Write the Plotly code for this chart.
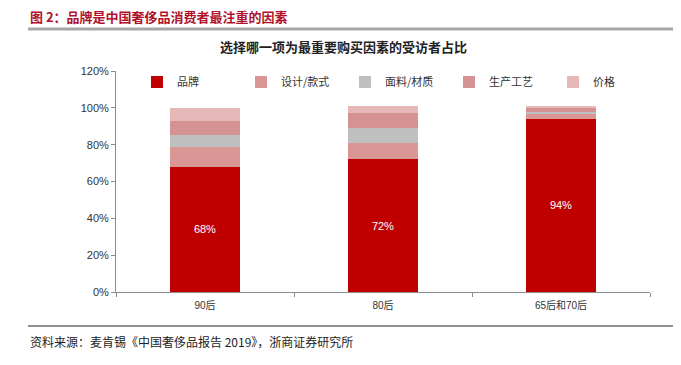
import plotly.graph_objects as go

categories = ["90后", "80后", "65后和70后"]
brand = [68, 72, 94]
design = [11, 9, 3]
material = [6, 8, 1]
craft = [8, 8, 2]
price = [7, 4, 1]
series_names = ["品牌", "设计/款式", "面料/材质", "生产工艺", "价格"]
series_values = [brand, design, material, craft, price]
colors = ["#C00000", "#DA9694", "#BFBFBF", "#D49392", "#E6B9B8"]

OFF = 8  # page body margin
W, H = 681 - OFF, 365 - OFF
# target plot area in screen pixels: x 116..650, y 71..292
L, T = 116 - OFF, 71 - OFF
R = W - (650 - OFF)
B = H - (292 - OFF)

FONT = "Liberation Sans, Arial, Noto Sans CJK SC"
CJK = "Noto Sans CJK SC"


def px_x(x):
    return (x - OFF - L) / (W - L - R)


def px_y(y):
    return (H - B - (y - OFF)) / (H - T - B)


fig = go.Figure()
for i, (name, vals) in enumerate(zip(series_names, series_values)):
    fig.add_trace(go.Bar(
        x=categories, y=vals, name=name,
        marker=dict(color=colors[i], line=dict(width=0)),
        text=[f"{v}%" for v in vals] if i == 0 else None,
        textposition="inside" if i == 0 else None,
        insidetextanchor="middle",
        textfont=dict(color="white", size=11, family=FONT),
        hoverinfo="skip",
    ))

fig.update_layout(
    width=W, height=H,
    margin=dict(l=L, r=R, t=T, b=B, pad=0, autoexpand=False),
    barmode="stack", bargap=0.605,
    plot_bgcolor="white", paper_bgcolor="white",
    showlegend=True,
    legend=dict(orientation="h", x=px_x(137), y=px_y(82), xanchor="left", yanchor="middle",
                font=dict(size=11, family=CJK, color="#333333"),
                entrywidth=59, entrywidthmode="pixels", itemwidth=30,
                bgcolor="rgba(0,0,0,0)", traceorder="normal"),
    font=dict(family=FONT, size=11, color="#333333"),
    uniformtext=dict(minsize=8, mode="show"),
)
fig.update_yaxes(range=[0, 120], dtick=20, ticksuffix="%", showgrid=False,
                 showline=True, linecolor="#8C8C8C", linewidth=1,
                 ticks="outside", ticklen=4, tickcolor="#8C8C8C",
                 tickfont=dict(size=11, family=FONT, color="#333333"), zeroline=False)
fig.update_xaxes(showgrid=False, showline=True, linecolor="#8C8C8C", linewidth=1,
                 ticks="outside", ticklen=4, tickcolor="#8C8C8C", tickson="boundaries",
                 ticklabelstandoff=4,
                 tickfont=dict(size=10, family=FONT, color="#333333"))

# Header title
fig.add_annotation(text="<b>图 2：品牌是中国奢侈品消费者最注重的因素</b>", xref="paper", yref="paper",
                   x=px_x(28), y=px_y(17), xanchor="left", yanchor="middle",
                   showarrow=False, font=dict(size=13, family=CJK, color="#B0102A"))
# Chart title
fig.add_annotation(text="<b>选择哪一项为最重要购买因素的受访者占比</b>", xref="paper", yref="paper",
                   x=px_x(343), y=px_y(47), xanchor="center", yanchor="middle",
                   showarrow=False, font=dict(size=13, family=CJK, color="#222222"))
# Source
fig.add_annotation(text="资料来源：麦肯锡《中国奢侈品报告 2019》，浙商证券研究所", xref="paper", yref="paper",
                   x=px_x(28), y=px_y(341), xanchor="left", yanchor="middle",
                   showarrow=False, font=dict(size=12, family=CJK, color="#222222"))

fig.add_shape(type="line", xref="paper", yref="paper", x0=px_x(28), x1=px_x(681), y0=px_y(29), y1=px_y(29),
              line=dict(color="#A6A6A6", width=3))
fig.add_shape(type="line", xref="paper", yref="paper", x0=px_x(28), x1=px_x(677), y0=px_y(326), y1=px_y(326),
              line=dict(color="#222222", width=1))

fig.write_html("out.html")
